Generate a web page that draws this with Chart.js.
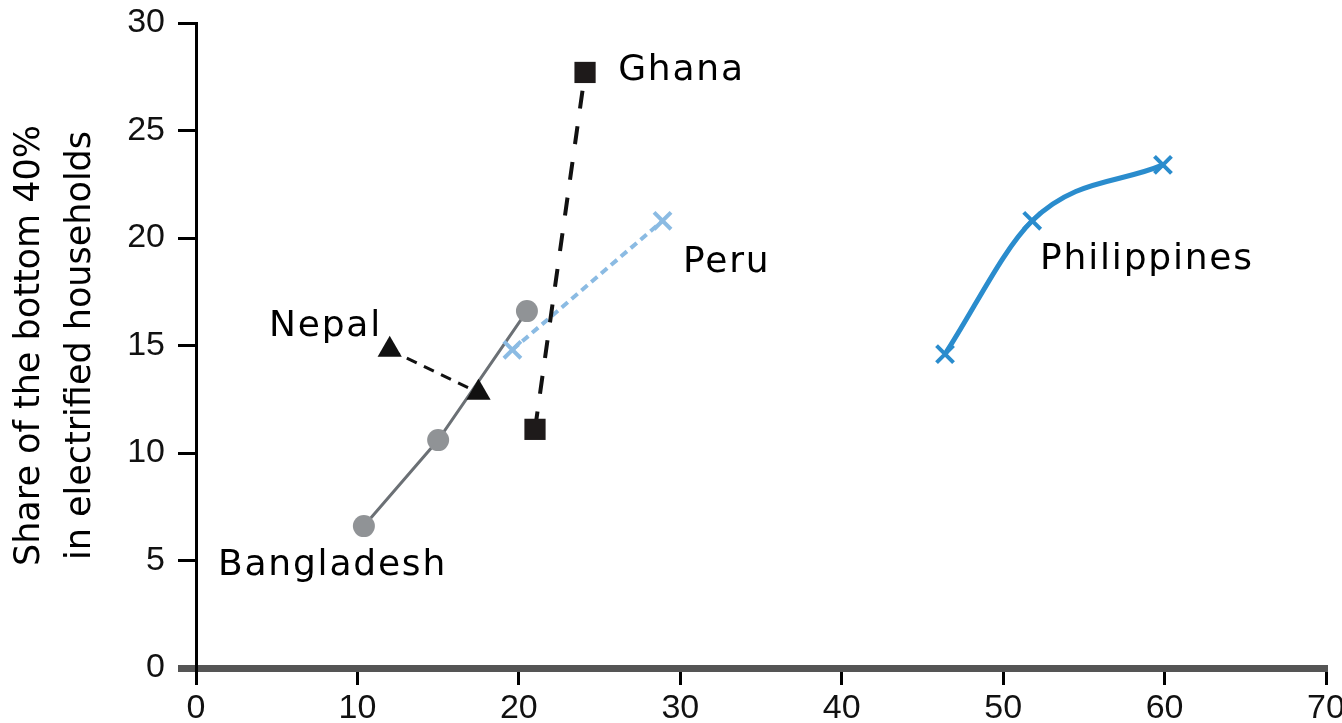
<!DOCTYPE html>
<html><head><meta charset="utf-8">
<script src="https://cdn.jsdelivr.net/npm/chart.js@4"></script>
<style>html,body{margin:0;padding:0;background:#fff;overflow:hidden}</style>
</head><body>
<canvas id="c" width="1342" height="723"></canvas>
<script>
// ---- data ----
const xTickValues = [0, 10, 20, 30, 40, 50, 60, 70];
const yTickValues = [0, 5, 10, 15, 20, 25, 30];
const bangladeshX = [10.4, 15.0, 20.5];
const bangladeshY = [6.6, 10.6, 16.6];
const nepalX = [12.0, 17.5];
const nepalY = [14.8, 12.8];
const ghanaX = [21.0, 24.1];
const ghanaY = [11.1, 27.7];
const peruX = [19.6, 28.9];
const peruY = [14.8, 20.8];
const philippinesX = [46.4, 51.8, 59.9];
const philippinesY = [14.6, 20.8, 23.4];
const yTitle = ['Share of the bottom 40%', 'in electrified households'];

// label anchors (data coordinates, left/baseline of the text)
const countryLabels = [
  {text: 'Ghana', x: 26.15, y: 27.34},
  {text: 'Peru', x: 30.17, y: 18.4},
  {text: 'Philippines', x: 52.29, y: 18.58},
  {text: 'Nepal', x: 4.52, y: 15.42},
  {text: 'Bangladesh', x: 1.36, y: 4.33}
];

const pts = (xs, ys) => xs.map((x, i) => ({x: x, y: ys[i]}));

const labelPlugin = {
  id: 'countryLabels',
  afterDatasetsDraw(chart) {
    const ctx = chart.ctx, xs = chart.scales.x, ys = chart.scales.y;
    ctx.save();
    ctx.font = '36px "DejaVu Sans"';
    try { ctx.letterSpacing = '1.8px'; } catch (e) {}
    ctx.fillStyle = '#000';
    ctx.textAlign = 'left';
    ctx.textBaseline = 'alphabetic';
    countryLabels.forEach(l => ctx.fillText(l.text, xs.getPixelForValue(l.x), ys.getPixelForValue(l.y)));
    ctx.restore();
  }
};

new Chart(document.getElementById('c'), {
  type: 'scatter',
  data: {
    datasets: [
      {label: 'Nepal', data: pts(nepalX, nepalY), showLine: true,
       borderColor: '#111', borderWidth: 3, borderDash: [11, 8],
       pointStyle: 'triangle', pointRadius: 14, pointBackgroundColor: '#111', pointBorderWidth: 0},
      {label: 'Ghana', data: pts(ghanaX, ghanaY), showLine: true,
       borderColor: '#111', borderWidth: 4, borderDash: [18, 18],
       pointStyle: 'rect', pointRadius: 15, pointBackgroundColor: '#1e1a1a', pointBorderWidth: 0},
      {label: 'Peru', data: pts(peruX, peruY), showLine: true,
       borderColor: '#8bbbe3', borderWidth: 4, borderDash: [8, 5],
       pointStyle: 'crossRot', pointRadius: 12, pointBorderColor: '#8bbbe3', pointBorderWidth: 4},
      {label: 'Philippines', data: pts(philippinesX, philippinesY), showLine: true,
       borderColor: '#2a8ccd', borderWidth: 5, cubicInterpolationMode: 'monotone',
       pointStyle: 'crossRot', pointRadius: 12, pointBorderColor: '#2a8ccd', pointBorderWidth: 4},
      {label: 'Bangladesh', data: pts(bangladeshX, bangladeshY), showLine: true,
       borderColor: '#6b7075', borderWidth: 3,
       pointStyle: 'circle', pointRadius: 11, pointBackgroundColor: '#909396', pointBorderWidth: 0}
    ]
  },
  options: {
    responsive: false,
    animation: false,
    devicePixelRatio: 1,
    layout: {padding: {top: 23, right: 16, bottom: 0, left: 0}},
    plugins: {legend: {display: false}, tooltip: {enabled: false}},
    scales: {
      x: {
        type: 'linear', min: xTickValues[0], max: xTickValues[xTickValues.length - 1],
        afterBuildTicks: s => { s.ticks = xTickValues.map(v => ({value: v})); },
        afterFit: s => { s.height = 55; s.paddingLeft = 0; s.paddingRight = 0; },
        ticks: {font: {family: '"Liberation Sans"', size: 34}, color: '#111', padding: 3, maxRotation: 0},
        grid: {drawOnChartArea: false, drawTicks: true, tickLength: 17, color: '#000', lineWidth: 3},
        border: {display: true, color: '#555', width: 7}
      },
      y: {
        type: 'linear', min: yTickValues[0], max: yTickValues[yTickValues.length - 1],
        afterBuildTicks: s => { s.ticks = yTickValues.map(v => ({value: v})); },
        afterFit: s => { s.width = 196; s.paddingTop = 0; s.paddingBottom = 0; },
        ticks: {font: {family: '"Liberation Sans"', size: 34}, color: '#111', padding: 13},
        grid: {drawOnChartArea: false, drawTicks: true, tickLength: 18,
               color: c => (c.tick && c.tick.value === 0) ? '#555' : '#000',
               lineWidth: c => (c.tick && c.tick.value === 0) ? 7 : 3},
        border: {display: true, color: '#000', width: 3},
        title: {display: true, text: yTitle, color: '#000',
                font: {family: '"DejaVu Sans"', size: 35, lineHeight: 1.45},
                padding: {top: 5, bottom: 0}}
      }
    }
  },
  plugins: [labelPlugin]
});
</script>
</body></html>
